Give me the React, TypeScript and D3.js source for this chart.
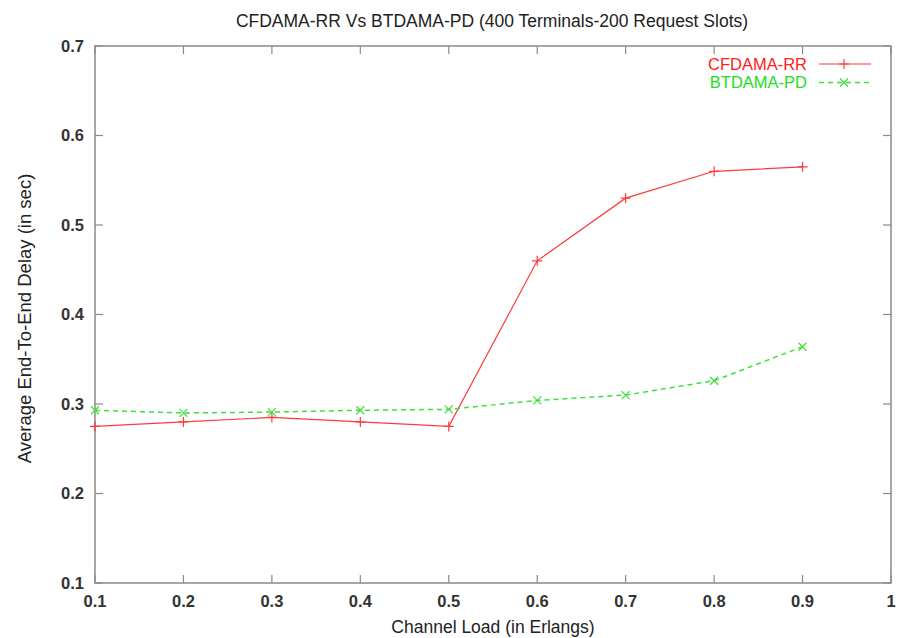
import React from 'react'
import * as d3 from 'd3'

const loads = [0.1, 0.2, 0.3, 0.4, 0.5, 0.6, 0.7, 0.8, 0.9]
const cfdamaRR = [0.275, 0.28, 0.285, 0.28, 0.275, 0.46, 0.53, 0.56, 0.565]
const btdamaPD = [0.293, 0.29, 0.291, 0.293, 0.294, 0.304, 0.31, 0.326, 0.364]
const xTicks = [0.1, 0.2, 0.3, 0.4, 0.5, 0.6, 0.7, 0.8, 0.9, 1]
const yTicks = [0.1, 0.2, 0.3, 0.4, 0.5, 0.6, 0.7]

const width = 899
const height = 638
const margin = { left: 95, right: 8, top: 46, bottom: 55 }

export default function App() {
  const innerWidth = width - margin.left - margin.right
  const innerHeight = height - margin.top - margin.bottom

  const xScale = d3.scaleLinear().domain([0.1, 1]).range([0, innerWidth])
  const yScale = d3.scaleLinear().domain([0.1, 0.7]).range([innerHeight, 0])

  const line = d3.line<number>()
    .x((d, i) => xScale(loads[i]))
    .y(d => yScale(d))

  const axisColor = '#8a8a8a'
  const red = '#ff3a3a'
  const green = '#3ee03e'
  const font = '"Liberation Sans", Arial, sans-serif'
  const tick = 8

  const plus = (x: number, y: number, c: string, k: string) => (
    <path key={k} d={`M${x - 5},${y}H${x + 5}M${x},${y - 5}V${y + 5}`} stroke={c} strokeWidth={1.2} fill="none" />
  )
  const cross = (x: number, y: number, c: string, k: string) => (
    <path key={k} d={`M${x - 4},${y - 4}L${x + 4},${y + 4}M${x - 4},${y + 4}L${x + 4},${y - 4}`} stroke={c} strokeWidth={1.2} fill="none" />
  )

  return (
    <svg width={width} height={height} style={{ position: 'absolute', left: 0, top: 0, background: '#fff' }} fontFamily={font}>
      <text x={492} y={27} textAnchor="middle" fontSize={17.5} fill="#222">
        CFDAMA-RR Vs BTDAMA-PD (400 Terminals-200 Request Slots)
      </text>
      <g transform={`translate(${margin.left},${margin.top})`}>
        {xTicks.map((t, i) => (
          <g key={i} transform={`translate(${xScale(t)},0)`}>
            <line y1={innerHeight} y2={innerHeight - tick} stroke={axisColor} strokeWidth={1.2} />
            <line y1={0} y2={tick} stroke={axisColor} strokeWidth={1.2} />
            <text y={innerHeight + 24} textAnchor="middle" fontSize={16.5} fontWeight="bold" fill="#333">{t}</text>
          </g>
        ))}
        {yTicks.map((t, i) => (
          <g key={i} transform={`translate(0,${yScale(t)})`}>
            <line x1={0} x2={tick} stroke={axisColor} strokeWidth={1.2} />
            <line x1={innerWidth} x2={innerWidth - tick} stroke={axisColor} strokeWidth={1.2} />
            <text x={-11} dy=".35em" textAnchor="end" fontSize={16.5} fontWeight="bold" fill="#333">{t.toFixed(1)}</text>
          </g>
        ))}
        <rect x={0} y={0} width={innerWidth} height={innerHeight} fill="none" stroke={axisColor} strokeWidth={1.5} />

        <path d={line(cfdamaRR) ?? ''} fill="none" stroke={red} strokeWidth={1.2} />
        <path d={line(btdamaPD) ?? ''} fill="none" stroke={green} strokeWidth={1.5} strokeDasharray="5,4" />
        {cfdamaRR.map((v, i) => plus(xScale(loads[i]), yScale(v), red, 'r' + i))}
        {btdamaPD.map((v, i) => cross(xScale(loads[i]), yScale(v), green, 'g' + i))}

        <g transform={`translate(${807 - margin.left},${64 - margin.top})`}>
          <text x={0} dy=".35em" textAnchor="end" fontSize={16.5} fill="#ff2020">CFDAMA-RR</text>
          <line x1={12} x2={64} stroke={red} strokeWidth={1.2} />
          {plus(37, 0, red, 'lr')}
          <text x={0} y={18.5} dy=".35em" textAnchor="end" fontSize={16.5} fill="#22dd22">BTDAMA-PD</text>
          <line x1={12} x2={64} y1={18.5} y2={18.5} stroke={green} strokeWidth={1.5} strokeDasharray="5,4" />
          {cross(37, 18.5, green, 'lg')}
        </g>
      </g>
      <text transform={`translate(31,${margin.top + innerHeight / 2 + 4}) rotate(-90)`} textAnchor="middle" fontSize={18.5} fill="#222">
        Average End-To-End Delay (in sec)
      </text>
      <text x={493} y={633} textAnchor="middle" fontSize={17.5} fill="#222">Channel Load (in Erlangs)</text>
    </svg>
  )
}
